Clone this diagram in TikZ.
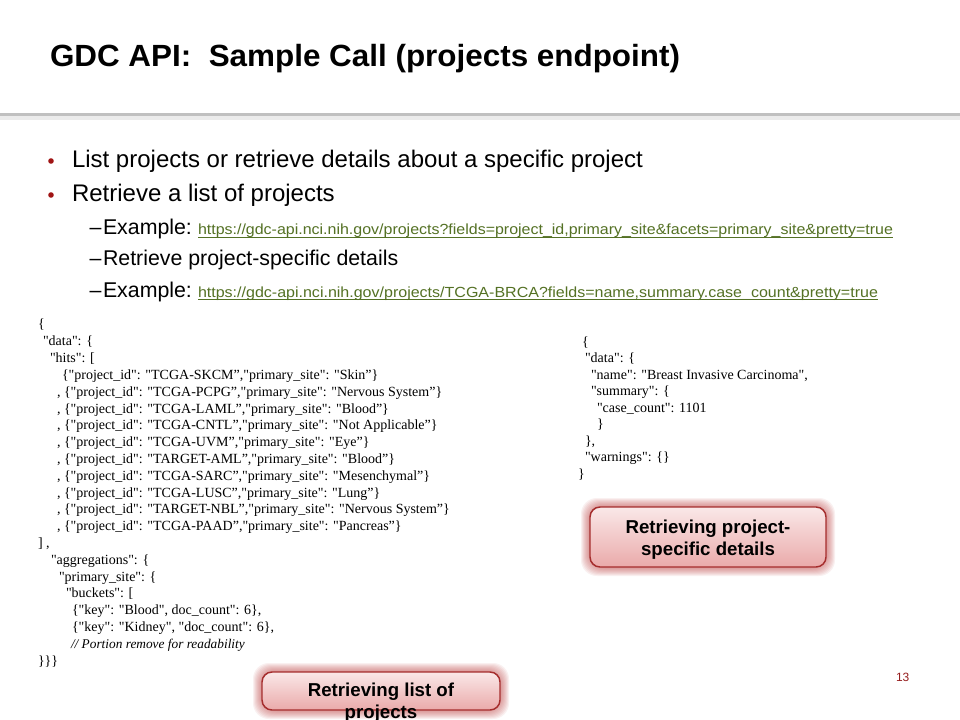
\documentclass[tikz,border=0pt]{standalone}
\usepackage{fontspec}
\usepackage{graphicx}
\setmainfont{Liberation Sans}
\newfontfamily\sansf{Liberation Sans}
\newfontfamily\serf{Liberation Serif}
\newfontfamily\titlef[FakeStretch=0.85]{Liberation Sans}
\definecolor{bulletred}{RGB}{160,20,20}
\definecolor{linkgreen}{RGB}{84,113,36}
\definecolor{pagered}{RGB}{150,30,30}
\definecolor{headgray}{RGB}{192,192,192}
\definecolor{boxtop}{RGB}{250,232,232}
\definecolor{boxbot}{RGB}{234,170,170}
\definecolor{boxborder}{RGB}{165,45,45}
\definecolor{glowred}{RGB}{190,60,60}
\newsavebox\fitbox
\newlength\fitlen
\newcommand\fitto[2]{\sbox\fitbox{#2}\setlength\fitlen{\wd\fitbox}\pgfmathsetmacro\fitr{#1*0.75pt/\fitlen}\scalebox{\fitr}[1]{\usebox\fitbox}}
\begin{document}
\begin{tikzpicture}[x=0.75pt,y=-0.75pt,
  txt/.style={anchor=base west,inner sep=0pt,outer sep=0pt},
  bul/.style={txt,font=\sansf\fontsize{18}{21}\selectfont},
  sub/.style={txt,font=\sansf\fontsize{16}{19}\selectfont},
  dsh/.style={txt,font=\sansf\fontsize{16}{19}\selectfont},
  url/.style={txt,text=linkgreen,font=\sansf\fontsize{11}{13}\selectfont},
  dot/.style={circle,fill=bulletred,inner sep=0pt,minimum size=4.2pt},
  js/.style={txt,font=\serf\fontsize{10.5}{12}\selectfont},
  jsi/.style={txt,font=\serf\itshape\fontsize{10}{12}\selectfont},
  boxstyle/.style={draw=boxborder,line width=1.1pt,rounded corners=7.5pt,top color=boxtop,bottom color=boxbot},
  boxtext/.style={font=\sansf\bfseries\fontsize{14}{16.5}\selectfont,align=center,inner sep=0pt}
]
\useasboundingbox (0,0) rectangle (960,720);
\fill[white] (0,0) rectangle (960,720);
% header rule
\fill[black!8] (0,116) rectangle (960,120);
\fill[headgray] (0,113.5) rectangle (960,116.5);
% title
\node (title) [txt,font=\titlef\bfseries\fontsize{23}{27}\selectfont] at (50,67) {\fitto{630}{GDC API:\ \ Sample Call (projects endpoint)}};
% bullets
\node (b1dot) [dot] at (51,161) {};
\node (b1) [bul] at (72,168) {List projects or retrieve details about a specific project};
\node (b2dot) [dot] at (51,195) {};
\node (b2) [bul] at (72,202) {Retrieve a list of projects};
\node (s1d) [dsh] at (89.5,235) {–};
\node (s1) [sub] at (103,235) {Example:};
\node (u1) [url] at (198,235) {\fitto{695}{https://gdc-api.nci.nih.gov/projects?fields=project\_id,primary\_site\&facets=primary\_site\&pretty=true}};
\draw[linkgreen,line width=0.7pt] ([yshift=-1.6pt]u1.base west) -- ([yshift=-1.6pt]u1.base east);
\node (s2d) [dsh] at (89.5,266) {–};
\node (s2) [sub] at (103,266) {Retrieve project-specific details};
\node (s3d) [dsh] at (89.5,297) {–};
\node (s3) [sub] at (103,297) {Example:};
\node (u2) [url] at (198,297) {\fitto{680}{https://gdc-api.nci.nih.gov/projects/TCGA-BRCA?fields=name,summary.case\_count\&pretty=true}};
\draw[linkgreen,line width=0.7pt] ([yshift=-1.6pt]u2.base west) -- ([yshift=-1.6pt]u2.base east);
% left JSON
\node (l0) [js] at (38,329) {\{};
\node (l1) [js] at (43,345.8) {"data": \{};
\node (l2) [js] at (50,362.6) {"hits": [};
\node (l3) [js] at (62,379.4) {\{"project\_id": "TCGA-SKCM”,"primary\_site": "Skin”\}};
\node (l4) [js] at (57,396.2) {, \{"project\_id": "TCGA-PCPG”,"primary\_site": "Nervous System”\}};
\node (l5) [js] at (57,413) {, \{"project\_id": "TCGA-LAML”,"primary\_site": "Blood”\}};
\node (l6) [js] at (57,429.8) {, \{"project\_id": "TCGA-CNTL”,"primary\_site": "Not Applicable”\}};
\node (l7) [js] at (57,446.6) {, \{"project\_id": "TCGA-UVM”,"primary\_site": "Eye”\}};
\node (l8) [js] at (57,463.4) {, \{"project\_id": "TARGET-AML”,"primary\_site": "Blood”\}};
\node (l9) [js] at (57,480.2) {, \{"project\_id": "TCGA-SARC”,"primary\_site": "Mesenchymal”\}};
\node (l10) [js] at (57,497) {, \{"project\_id": "TCGA-LUSC”,"primary\_site": "Lung”\}};
\node (l11) [js] at (57,513.8) {, \{"project\_id": "TARGET-NBL”,"primary\_site": "Nervous System”\}};
\node (l12) [js] at (57,530.6) {, \{"project\_id": "TCGA-PAAD”,"primary\_site": "Pancreas”\}};
\node (l13) [js] at (38,547.4) {] ,};
\node (l14) [js] at (51,564.2) {"aggregations": \{};
\node (l15) [js] at (59,581) {"primary\_site": \{};
\node (l16) [js] at (66,597.8) {"buckets": [};
\node (l17) [js] at (72,614.6) {\{"key": "Blood", doc\_count": 6\},};
\node (l18) [js] at (72,631.4) {\{"key": "Kidney", "doc\_count": 6\},};
\node (l19) [jsi] at (71,648.2) {// Portion remove for readability};
\node (l20) [js] at (38,665) {\}\}\}};
% right JSON
\node (r0) [js] at (582,346) {\{};
\node (r1) [js] at (585,362.5) {"data": \{};
\node (r2) [js] at (591,379) {"name": "Breast Invasive Carcinoma",};
\node (r3) [js] at (591,395.5) {"summary": \{};
\node (r4) [js] at (597,412) {"case\_count": 1101};
\node (r5) [js] at (597,428.5) {\}};
\node (r6) [js] at (585,445) {\},};
\node (r7) [js] at (585,461.5) {"warnings": \{\}};
\node (r8) [js] at (578,478) {\}};
% glow + boxes
\foreach \g in {1,...,9}{
  \fill[glowred,opacity=0.075,rounded corners=12pt] (590-\g,507-\g) rectangle (826+\g,567+\g);
  \fill[glowred,opacity=0.075,rounded corners=12pt] (262-\g,672-\g) rectangle (500+\g,710+\g);
}
\node (rbox) [boxstyle,minimum width=177pt,minimum height=45pt] at (708,537) {};
\node (rboxt) [boxtext,anchor=north] at (708,520) {Retrieving project-\\specific details};
\node (lbox) [boxstyle,minimum width=178.5pt,minimum height=28.5pt] at (381,691) {};
\node (lboxt) [boxtext,anchor=north] at (381,683) {Retrieving list of\\projects};
% page number
\node (pg) [txt,text=pagered,font=\sansf\fontsize{9}{11}\selectfont] at (896,681) {13};
\end{tikzpicture}
\end{document}
